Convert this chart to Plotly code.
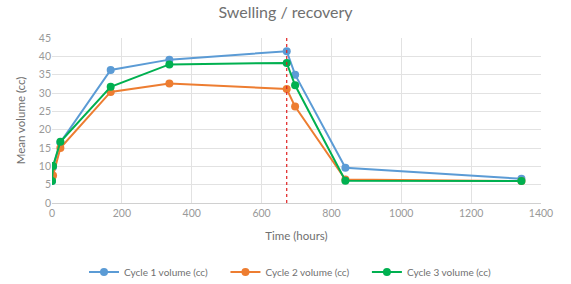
import plotly.graph_objects as go

time_hours = [0, 3, 24, 168, 336, 672, 696, 840, 1344]
cycle1 = [6.0, 9.8, 16.5, 36.3, 39.1, 41.4, 35.0, 9.6, 6.6]
cycle2 = [6.8, 7.5, 15.0, 30.3, 32.6, 31.1, 26.3, 6.4, 6.0]
cycle3 = [6.0, 10.1, 16.7, 31.7, 37.8, 38.2, 32.1, 6.1, 6.0]
series_names = ["Cycle 1 volume (cc)", "Cycle 2 volume (cc)", "Cycle 3 volume (cc)"]
series_colors = ["#5B9BD5", "#ED7D31", "#00B050"]
marker_time = 672

fig = go.Figure()
for name, vals, col in zip(series_names, [cycle1, cycle2, cycle3], series_colors):
    fig.add_trace(go.Scatter(
        x=time_hours, y=vals, name=name + "     ", mode="lines+markers",
        line=dict(color=col, width=2), marker=dict(color=col, size=8),
    ))

fig.add_shape(type="line", x0=marker_time, x1=marker_time, y0=0, y1=45,
              xref="x", yref="y", line=dict(color="#E02020", width=1.2, dash="dot"))

font_fam = "Lato, Open Sans, sans-serif"
fig.update_layout(
    width=571, height=284,
    margin=dict(l=52, r=30, t=38, b=81, autoexpand=False),
    paper_bgcolor="white", plot_bgcolor="white",
    font=dict(family=font_fam, color="#999999", size=10),
    title=dict(text="Swelling / recovery", x=0.5, xanchor="center", y=0.955, yanchor="middle",
               font=dict(size=16, color="#707070", family=font_fam)),
    xaxis=dict(range=[0, 1400], dtick=200, showgrid=True, gridcolor="#e2e2e2",
               zeroline=False, showline=True, linecolor="#d0d0d0", ticks="", automargin=False,
               title=dict(text="Time (hours)", font=dict(size=11.5, color="#707070"), standoff=14),
               tickfont=dict(size=10.5, color="#999999")),
    yaxis=dict(range=[0, 45], dtick=5, showgrid=True, gridcolor="#e2e2e2",
               zeroline=False, showline=False, ticks="", automargin=False,
               title=dict(text="Mean volume (cc)", font=dict(size=11.5, color="#707070"), standoff=10),
               tickfont=dict(size=10.5, color="#999999")),
    legend=dict(orientation="h", x=0.5, xanchor="center", y=-0.33, yanchor="top",
                font=dict(size=10, color="#707070")),
    showlegend=True,
)

fig.write_html("out.html", config={"displayModeBar": False},
               post_script="document.body.style.margin='0';")
